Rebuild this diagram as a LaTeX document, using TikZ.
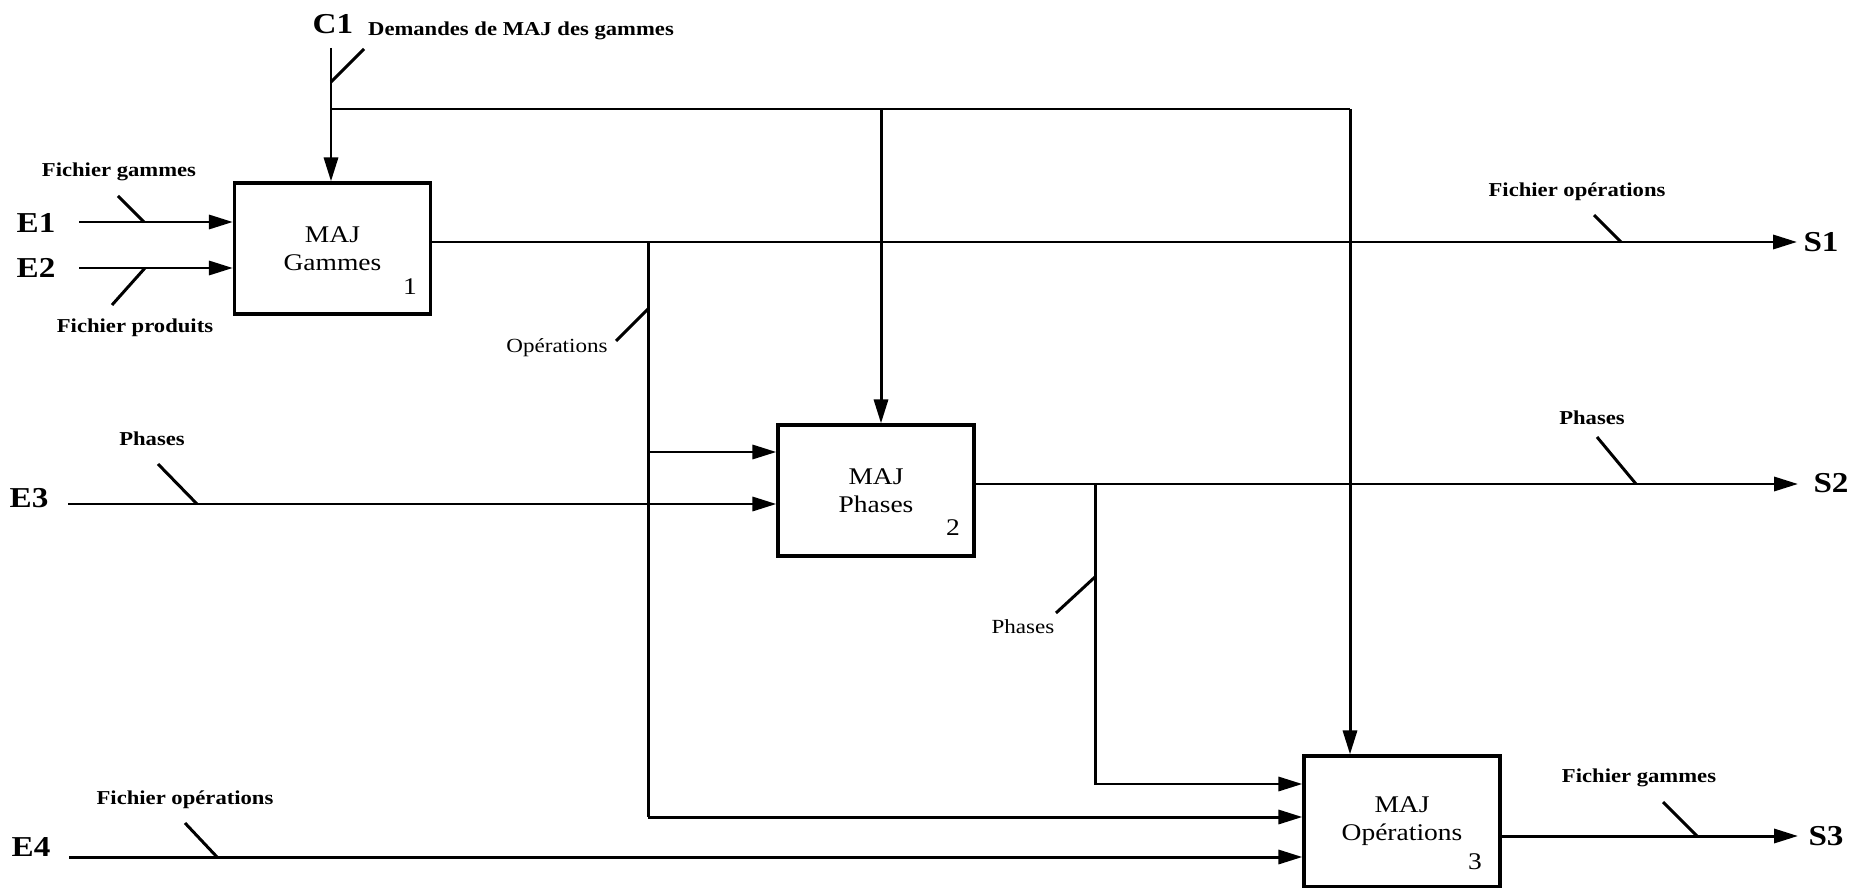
\documentclass[tikz,border=0pt]{standalone}
\usepackage{fontspec}
\setmainfont{Liberation Serif}[FakeStretch=1.15]
\usetikzlibrary{arrows.meta}
\begin{document}
\begin{tikzpicture}[x=0.01cm,y=-0.01cm,
  line width=0.85pt,
  arr/.style={-{Triangle[length=6.8pt,width=4pt]}},
  box/.style={draw,line width=0.9pt,minimum width=1.96cm,minimum height=1.31cm,inner sep=0pt,
    font=\fontsize{6.8}{8}\selectfont,align=center},
  num/.style={font=\fontsize{6.8}{8}\selectfont,inner sep=0pt},
  io/.style={font=\fontsize{8.2}{9}\selectfont\bfseries,inner sep=0pt},
  lab/.style={font=\fontsize{5.6}{6}\selectfont\bfseries,inner sep=0pt},
  nlab/.style={font=\fontsize{5.7}{6}\selectfont,inner sep=0pt},
]
\useasboundingbox (0,0) rectangle (1851,888);

% boxes
\node[box] (b1) at (332.5,248.5) {MAJ\\Gammes};
\node[box] (b2) at (876,490.5) {MAJ\\Phases};
\node[box] (b3) at (1402,821.5) {MAJ\\Opérations};
\node[num] (n1) at (410,287) {1};
\node[num] (n2) at (953,528) {2};
\node[num] (n3) at (1475,862) {3};

% control C1
\node[io] (c1) at (333,24) {C1};
\node[lab] (lc1) at (521,31) {Demandes de MAJ des gammes};
\coordinate (c1top) at (331,48);
\coordinate (cj) at (331,109);
\coordinate (mx) at (881,109);
\coordinate (rx) at (1350,109);
\draw[arr] (c1top) -- (c1top |- b1.north);
\draw (cj) -- (rx);
\draw[arr] (mx) -- (mx |- b2.north);
\draw[arr] (rx) -- (rx |- b3.north);
\draw (331,82) -- (364,49);

% inputs E1, E2
\node[io] (e1) at (36,223) {E1};
\node[io] (e2) at (36,268) {E2};
\coordinate (e1s) at (79,222);
\coordinate (e2s) at (79,268);
\draw[arr] (e1s) -- (e1s -| b1.west);
\draw[arr] (e2s) -- (e2s -| b1.west);
\draw (118,196) -- (144,222);
\draw (145,268) -- (112,305);
\node[lab] (lfg) at (119,172) {Fichier gammes};
\node[lab] (lfp) at (135,328) {Fichier produits};

% output S1
\coordinate (s1e) at (1797,242);
\draw[arr] (b1.east |- s1e) -- (s1e);
\node[io] (s1) at (1821,242) {S1};
\draw (1594,215) -- (1621,242);
\node[lab] (lfo) at (1577,192) {Fichier opérations};

% operations branch
\coordinate (ox) at (648,242);
\coordinate (o2) at (648,452);
\coordinate (o3) at (648,817);
\draw (ox) -- (o3);
\draw[arr] (o2) -- (o2 -| b2.west);
\draw[arr] (o3) -- (o3 -| b3.west);
\draw (648,309) -- (616,341);
\node[nlab] (lop) at (557,348) {Opérations};

% input E3
\node[io] (e3) at (29,498) {E3};
\coordinate (e3s) at (68,504);
\draw[arr] (e3s) -- (e3s -| b2.west);
\draw (158,464) -- (197,504);
\node[lab] (lph1) at (152,439) {Phases};

% output S2
\coordinate (s2e) at (1798,484);
\draw[arr] (b2.east |- s2e) -- (s2e);
\node[io] (s2) at (1831,483) {S2};
\draw (1597,437) -- (1636,484);
\node[lab] (lph2) at (1592,418) {Phases};

% phases branch
\coordinate (px) at (1095,484);
\coordinate (p3) at (1095,784);
\draw[arr] (px) -- (p3) -- (p3 -| b3.west);
\draw (1095,577) -- (1056,613);
\node[nlab] (lph3) at (1023,627) {Phases};

% input E4
\node[io] (e4) at (31,847) {E4};
\coordinate (e4s) at (69,857);
\draw[arr] (e4s) -- (e4s -| b3.west);
\draw (185,823) -- (217,857);
\node[lab] (lfo2) at (185,800) {Fichier opérations};

% output S3
\coordinate (s3e) at (1798,836);
\draw[arr] (b3.east |- s3e) -- (s3e);
\node[io] (s3) at (1826,836) {S3};
\draw (1663,802) -- (1697,836);
\node[lab] (lfg2) at (1639,778) {Fichier gammes};
\end{tikzpicture}
\end{document}
